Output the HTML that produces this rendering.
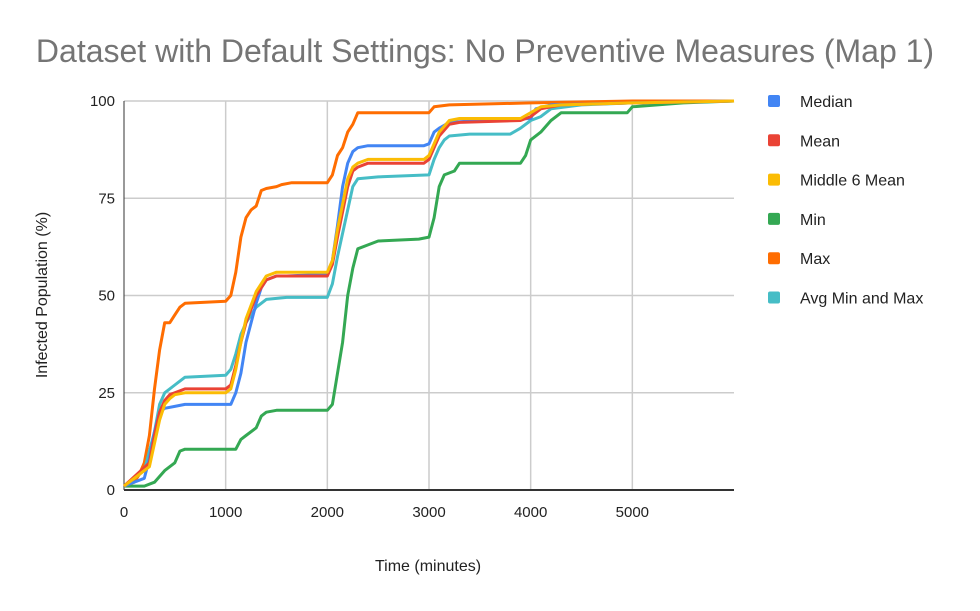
<!DOCTYPE html>
<html><head><meta charset="utf-8"><style>
body{margin:0;background:#fff;font-family:"Liberation Sans",Arial,sans-serif}
svg text{font-family:"Liberation Sans",Arial,sans-serif}
</style></head><body>
<svg id="c" width="980" height="606" viewBox="0 0 980 606">
<rect width="980" height="606" fill="#fff"/>
<text x="485" y="62" text-anchor="middle" font-size="32" fill="#757575">Dataset with Default Settings: No Preventive Measures (Map 1)</text>
<g id="grid"></g><g id="lines"></g><g id="legend"></g>
<text x="428" y="571" text-anchor="middle" font-size="16" fill="#222">Time (minutes)</text>
<text transform="translate(47,295) rotate(-90)" text-anchor="middle" font-size="16" fill="#222">Infected Population (%)</text>
</svg>
<script>
const seriesNames=["Median","Mean","Middle 6 Mean","Min","Max","Avg Min and Max"];
const seriesColors=["#4285f4","#ea4335","#fbbc04","#34a853","#ff6d01","#46bdc6"];
const xTicks=[0,1000,2000,3000,4000,5000];
const yTicks=[0,25,50,75,100];
const median=[[0,1],[200,3],[250,8],[300,15],[350,20],[400,21],[500,21.5],[600,22],[1050,22],[1100,25],[1150,30],[1200,38],[1250,43],[1300,48],[1350,52],[1400,54],[1500,55],[1600,55],[2000,55.5],[2050,59],[2100,68],[2150,78],[2200,84],[2250,87],[2300,88],[2400,88.5],[2950,88.5],[3000,89],[3050,92],[3100,93],[3200,94.5],[3500,95],[4000,95.5],[4050,98],[4200,99],[5000,99.5],[6000,100]];
const mean=[[0,1],[250,7],[300,14],[350,20],[400,23],[450,24.5],[500,25],[600,26],[1000,26],[1050,27],[1100,32],[1150,38],[1200,43],[1300,50],[1400,54],[1500,55],[2000,55],[2050,58],[2100,65],[2200,78],[2250,82],[2300,83],[2400,84],[2950,84],[3000,85],[3050,88],[3100,91],[3200,94],[3300,94.5],[3900,95],[4000,96],[4100,98],[4300,99],[5000,99.5],[6000,100]];
const middle6=[[0,1],[250,6],[300,12],[350,18],[400,22],[450,23.5],[500,24.5],[600,25],[1000,25],[1050,26],[1100,31],[1150,38],[1200,44],[1300,51],[1400,55],[1500,56],[2000,56],[2050,59],[2100,67],[2200,80],[2250,83],[2300,84],[2400,85],[2950,85],[3000,86],[3050,89],[3100,92],[3200,95],[3300,95.5],[3900,95.5],[4000,97],[4100,98.5],[4300,99],[5000,99.5],[6000,100]];
const minS=[[0,1],[200,1],[300,2],[400,5],[500,7],[550,10],[600,10.5],[1100,10.5],[1150,13],[1200,14],[1300,16],[1350,19],[1400,20],[1500,20.5],[2000,20.5],[2050,22],[2100,30],[2150,38],[2200,50],[2250,57],[2300,62],[2400,63],[2500,64],[2900,64.5],[3000,65],[3050,70],[3100,78],[3150,81],[3250,82],[3300,84],[3900,84],[3950,86],[4000,90],[4100,92],[4200,95],[4300,97],[4950,97],[5000,98.5],[5500,99.5],[6000,100]];
const maxS=[[0,1],[100,2],[150,4],[200,7],[250,14],[300,26],[350,36],[400,43],[450,43],[500,45],[550,47],[600,48],[1000,48.5],[1050,50],[1100,56],[1150,65],[1200,70],[1250,72],[1300,73],[1350,77],[1400,77.5],[1500,78],[1550,78.5],[1650,79],[2000,79],[2050,81],[2100,86],[2150,88],[2200,92],[2250,94],[2300,97],[3000,97],[3050,98.5],[3200,99],[4000,99.5],[5000,100],[6000,100]];
const avgMinMax=[[0,1],[200,5],[300,15],[350,22],[400,25],[500,27],[600,29],[1000,29.5],[1050,31],[1100,35],[1150,40],[1200,43],[1300,47],[1400,49],[1600,49.5],[2000,49.5],[2050,53],[2100,60],[2200,72],[2250,78],[2300,80],[2500,80.5],[3000,81],[3050,85],[3100,88],[3150,90],[3200,91],[3400,91.5],[3800,91.5],[3900,93],[4000,95],[4100,96],[4200,98],[4500,99],[5000,99.5],[6000,100]];
const seriesData=[median,mean,middle6,minS,maxS,avgMinMax];
const NS="http://www.w3.org/2000/svg";
const L=124,R=734,T=101,B=490,XMAX=6000;
const xs=v=>L+v/XMAX*(R-L), ys=v=>B-v/100*(B-T);
function mk(tag,attrs,parent){const e=document.createElementNS(NS,tag);for(const k in attrs)e.setAttribute(k,attrs[k]);parent.appendChild(e);return e;}
const grid=document.getElementById('grid');
yTicks.forEach(t=>{
 if(t>0){const g=mk('line',{x1:L,x2:R,y1:ys(t),y2:ys(t),stroke:'#ccc','stroke-width':1.5},grid);
 
 }
 const tx=mk('text',{x:L-9,y:ys(t)+5,'text-anchor':'end','font-size':15,fill:'#222'},grid);tx.textContent=t;
 
 
});
xTicks.forEach(t=>{
 if(t>0){const g=mk('line',{x1:xs(t),x2:xs(t),y1:T,y2:B,stroke:'#ccc','stroke-width':1.5},grid);
 
 }
 const tx=mk('text',{x:xs(t),y:B+27,'text-anchor':'middle','font-size':15,fill:'#222'},grid);tx.textContent=t;
 
 
});
const ax=mk('line',{x1:L,x2:R,y1:B,y2:B,stroke:'#333','stroke-width':2},grid);


const ay=mk('line',{x1:L,x2:L,y1:T,y2:B,stroke:'#333','stroke-width':1},grid);


const lines=document.getElementById('lines');
const order=[3,4,5,0,1,2];
order.forEach(i=>{
 const d=seriesData[i].map((p,j)=>(j?'L':'M')+xs(p[0]).toFixed(1)+','+ys(p[1]).toFixed(1)).join('');
 const p=mk('path',{d:d,fill:'none',stroke:seriesColors[i],'stroke-width':3,'stroke-linejoin':'round'},lines);
 
 
});
const lg=document.getElementById('legend');
seriesNames.forEach((n,i)=>{
 const y=101+i*39.3;
 const g=mk('g',{},lg);
 
 
 mk('rect',{x:768,y:y-6,width:12,height:12,rx:2,fill:seriesColors[i]},g);
 const t=mk('text',{x:800,y:y+6,'font-size':16,fill:'#222'},g);t.textContent=n;
});
</script>
</body></html>
